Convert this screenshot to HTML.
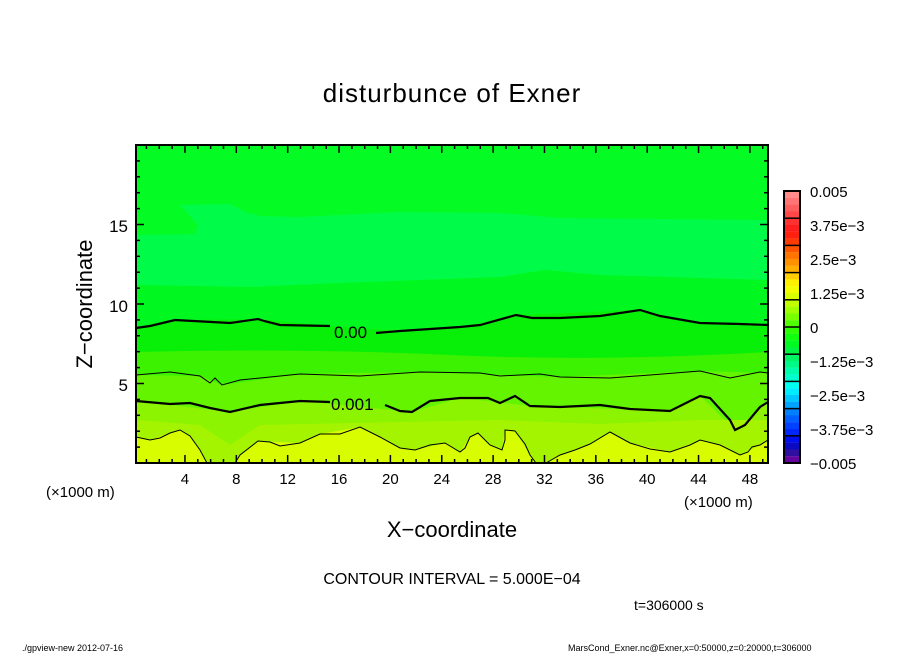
<!DOCTYPE html>
<html><head><meta charset="utf-8"><style>
body{margin:0;background:#fff;}
svg text{font-family:"Liberation Sans",sans-serif;}
</style></head><body>
<svg id="s" width="904" height="654" xmlns="http://www.w3.org/2000/svg">
<rect width="904" height="654" fill="#fff"/>
<text x="452" y="102" font-size="26" text-anchor="middle" letter-spacing="1">disturbunce of Exner</text>
<rect x="136" y="145" width="632" height="318" fill="#04fc24"/>
<path d="M136,235 L195,234 L198,225 L180,205 L230,204 L245,212 L260,216 L300,217 L400,212 L500,213 L560,218 L768,220 L768,280 L600,275 L545,270 L500,277 L340,283 L250,287 L136,285Z" fill="#00fc48"/>
<path d="M136,285 L250,287 L340,283 L500,277 L545,270 L600,275 L768,280 L768,330 L136,330Z" fill="#00f820"/>
<path d="M136,328 L150,326 L175,320 L258,319 L330,326 L400,331 L480,325 L516,315 L640,310 L700,323 L768,325 L768,463 L136,463Z" fill="#08f008"/>
<path d="M136,352 Q300,348 450,355 T768,352 L768,463 L136,463Z" fill="#3cf200"/>
<path d="M136,375 L200,376 L222,385 L300,374 L420,372 L560,377 L700,371 L768,373 L768,463 L136,463Z" fill="#64f400"/>
<path d="M136,401 L230,412 L300,401 L412,412 L460,398 L530,406 L670,411 L700,396 L735,430 L768,402 L768,463 L136,463Z" fill="#8cf400"/>
<path d="M136,420 L200,425 L230,445 L260,425 L400,422 L500,420 L600,424 L700,420 L768,420 L768,463 L136,463Z" fill="#a4f400"/>
<path d="M136,437 L150,440 L170,433 L180,430 L190,436 L200,450 L207,463 L235,463 L240,455 L258,441 L300,443 L320,434 L360,427 L380,437 L400,448 L415,450 L445,443 L460,452 L470,437 L478,433 L490,445 L502,450 L505,430 L515,431 L530,455 L536,463 L546,463 L560,455 L590,444 L610,432 L630,443 L670,452 L700,440 L720,445 L740,455 L760,445 L768,440 L768,463 L136,463Z" fill="#d8fc00"/>
<g fill="none" stroke="#000">
<polyline stroke-width="2.2" points="136,328 150,326 175,320 212,322 230,323 258,319 264,321 280,325 330,326"/>
<polyline stroke-width="2.2" points="376,333 400,331 460,327 480,325 516,315 532,318 560,318 600,316 640,310 660,316 700,323 740,324 768,325"/>
<polyline stroke-width="1" points="136,375 170,372 200,376 210,383 215,378 222,385 240,380 300,374 360,376 420,372 480,373 500,376 540,374 560,377 610,378 650,375 700,371 730,378 760,372 768,373"/>
<polyline stroke-width="2.2" points="136,401 170,404 190,403 210,408 230,412 260,405 300,401 330,402"/>
<polyline stroke-width="2.2" points="385,405 400,411 412,412 430,401 460,398 488,398 500,403 515,396 530,406 560,407 600,405 630,409 670,411 700,396 710,398 730,420 735,430 745,425 760,407 768,402"/>
<polyline stroke-width="1" points="136,437 150,440 160,438 170,433 180,430 190,436 200,450 207,463"/>
<polyline stroke-width="1" points="235,463 240,455 258,441 270,442 280,446 300,443 320,434 340,434 360,427 380,437 400,448 415,450 430,445 445,443 460,452 465,448 470,437 478,433 490,445 502,450 505,440 505,430 515,431 525,444 530,455 536,463"/>
<polyline stroke-width="1" points="546,463 560,455 575,450 590,444 610,432 630,443 650,449 670,452 690,445 700,440 720,445 740,455 748,452 752,447 760,445 768,440"/>
</g>
<text x="334" y="338" font-size="17">0.00</text>
<text x="331" y="410" font-size="17">0.001</text>
<rect x="136" y="145" width="632" height="318" fill="none" stroke="#000" stroke-width="2"/>
<g id="ticks" stroke="#000" stroke-width="1.5"></g>
<g font-size="17" text-anchor="end">
<text x="128" y="232">15</text><text x="128" y="312">10</text><text x="128" y="391">5</text>
</g>
<g font-size="15" text-anchor="middle" id="xl"></g>
<text x="46" y="497" font-size="15">(×1000 m)</text>
<text x="684" y="507" font-size="15">(×1000 m)</text>
<text x="452" y="537" font-size="22" text-anchor="middle">X−coordinate</text>
<text x="92" y="304" font-size="22" text-anchor="middle" transform="rotate(-90 92 304)">Z−coordinate</text>
<text x="452" y="584" font-size="16" text-anchor="middle">CONTOUR INTERVAL = 5.000E−04</text>
<text x="634" y="610" font-size="14">t=306000 s</text>
<text x="22" y="651" font-size="9">./gpview-new  2012-07-16</text>
<text x="568" y="651" font-size="9">MarsCond_Exner.nc@Exner,x=0:50000,z=0:20000,t=306000</text>
<g id="cb"></g>
<g font-size="15">
<text x="810" y="197">0.005</text><text x="810" y="231">3.75e−3</text><text x="810" y="265">2.5e−3</text><text x="810" y="299">1.25e−3</text><text x="810" y="333">0</text><text x="810" y="367">−1.25e−3</text><text x="810" y="401">−2.5e−3</text><text x="810" y="435">−3.75e−3</text><text x="810" y="469">−0.005</text>
</g>
</svg>
<script>
var NS="http://www.w3.org/2000/svg";
function el(p,t,a){var e=document.createElementNS(NS,t);for(var k in a)e.setAttribute(k,a[k]);p.appendChild(e);return e;}
var tk=document.getElementById('ticks');
for(var i=1;i<20;i++){var y=463-i*15.9;var L=(i%5==0)?8:4;el(tk,'line',{x1:136,y1:y,x2:136+L,y2:y});el(tk,'line',{x1:768,y1:y,x2:768-L,y2:y});}
var xl=document.getElementById('xl');
for(var i=1;i<50;i++){var x=133.6+i*12.84;if(x>=768)break;var L=(i%4==0)?8:4;el(tk,'line',{x1:x,y1:463,x2:x,y2:463-L});el(tk,'line',{x1:x,y1:145,x2:x,y2:145+L});
if(i%4==0){var t=el(xl,'text',{x:x,y:484});t.textContent=i;}}
var stops=[[0,[255,150,150]],[4,[255,60,60]],[6,[255,20,20]],[8,[255,70,0]],[10,[255,130,0]],[12,[255,190,0]],[14,[255,255,0]],[17,[180,255,0]],[20,[60,255,0]],[22,[0,255,20]],[24,[0,240,80]],[27,[0,255,190]],[29,[0,255,255]],[31,[0,180,255]],[33,[0,110,255]],[35,[0,50,255]],[37,[0,0,230]],[38,[20,20,160]],[40,[128,0,160]]];
function col(v){for(var j=0;j<stops.length-1;j++){var a=stops[j],b=stops[j+1];if(v>=a[0]&&v<=b[0]){var f=(v-a[0])/(b[0]-a[0]);return 'rgb('+[0,1,2].map(function(k){return Math.round(a[1][k]+(b[1][k]-a[1][k])*f)}).join(',')+')';}}return '#000';}
var cb=document.getElementById('cb');
for(var i=0;i<40;i++){el(cb,'rect',{x:784,y:191+i*6.8,width:16,height:6.9,fill:col(i+0.5)});}
for(var i=1;i<10;i++){el(cb,'line',{x1:784,x2:800,y1:191+i*27.2,y2:191+i*27.2,stroke:'#000','stroke-width':1.5});}
el(cb,'rect',{x:784,y:191,width:16,height:272,fill:'none',stroke:'#000','stroke-width':2});
</script>
</body></html>
